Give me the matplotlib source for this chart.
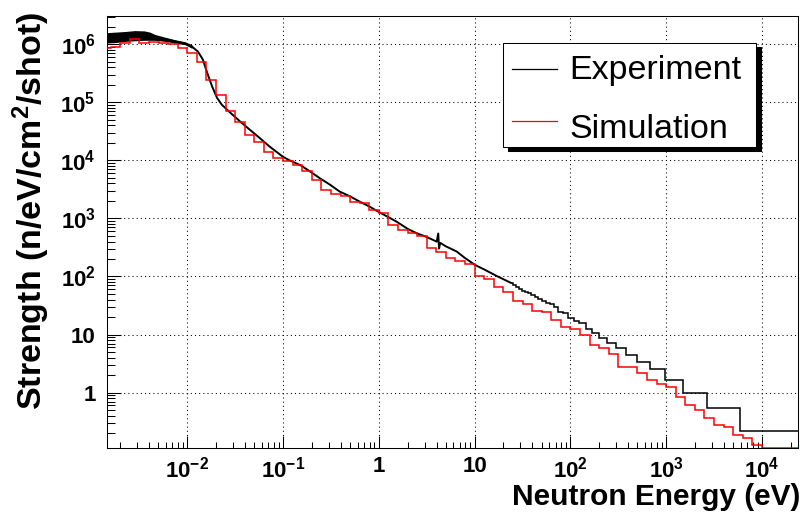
import numpy as np
import matplotlib
matplotlib.use("Agg")
import matplotlib.pyplot as plt
from matplotlib.lines import Line2D
from matplotlib.patches import Rectangle

# ---- data ----
# simulation: histogram with 10 log bins per decade (edges 10^-2.9 ... 10^4.4)
sim_edges = np.logspace(-2.9, 4.4, 74)
sim_values = [
    8.5e5, 9.1e5, 1.05e6, 1.23e6, 1.07e6, 1.10e6, 1.07e6, 1.0e6, 8.5e5, 7.1e5,
    4.9e5, 2.45e5, 1.35e5, 7.1e4, 4.6e4, 2.75e4, 2.1e4, 1.41e4, 1.12e4, 9.8e3,
    8.3e3, 6.5e3, 4.6e3, 3.1e3, 2.6e3, 2.45e3, 1.95e3, 1.82e3, 1.41e3, 1.23e3,
    776, 631, 556, 501, 309, 269, 207, 186, 166, 102,
    89, 65, 54, 38, 33, 25.7, 24.3, 17.8, 13.5, 12.6,
    9.8, 6.5, 5.8, 4.6, 2.8, 2.8, 2.16, 1.62, 1.41, 1.24,
    0.855, 0.62, 0.50, 0.363, 0.278, 0.26, 0.187, 0.164, 0.126, 0.111,
    0.111, 0.111, 0.111,
]

# experiment, fine-binned part (drawn as a line)
exp_fine_E = [
    1.445e-3, 1.78e-3, 2.24e-3, 2.82e-3, 3.55e-3, 4.07e-3, 4.57e-3, 5.9e-3,
    7.4e-3, 9.5e-3, 1.12e-2, 1.29e-2, 1.45e-2, 1.62e-2, 1.82e-2, 2.04e-2,
    2.29e-2, 2.82e-2, 3.55e-2, 4.47e-2, 5.75e-2, 7.2e-2, 0.1, 0.117, 0.151,
    0.19, 0.243, 0.31, 0.39, 0.50, 0.63, 0.81, 1.0, 1.26, 1.53, 2.0, 2.48,
    3.16, 4.02, 4.17, 4.25, 4.37, 5.0, 6.5, 7.9, 10.1, 12.6, 17.0, 23.8,
]
exp_fine_S = [
    1.29e6, 1.32e6, 1.36e6, 1.41e6, 1.41e6, 1.38e6, 1.32e6, 1.22e6,
    1.12e6, 1.035e6, 9.1e5, 7.5e5, 5.5e5, 3.16e5, 1.86e5, 1.2e5,
    9.1e4, 6.6e4, 4.7e4, 3.4e4, 2.4e4, 1.74e4, 1.15e4, 1.0e4, 8.3e3,
    6.5e3, 4.9e3, 3.8e3, 2.9e3, 2.4e3, 1.95e3, 1.58e3, 1.29e3, 1.05e3, 881, 661, 556,
    479, 398, 550, 302, 380, 331, 269, 209, 158, 132, 102, 78,
]

# statistical spread of the experiment at the lowest energies
band_E = [1.445e-3, 1.78e-3, 2.24e-3, 2.82e-3, 3.55e-3, 4.07e-3, 4.57e-3,
          5.9e-3, 7.4e-3, 9.5e-3, 1.12e-2]
band_hi = [1.585e6, 1.62e6, 1.66e6, 1.72e6, 1.70e6, 1.62e6, 1.48e6,
           1.32e6, 1.2e6, 1.1e6, 9.8e5]
band_lo = [1.05e6, 1.07e6, 1.12e6, 1.15e6, 1.17e6, 1.17e6, 1.17e6,
           1.12e6, 1.05e6, 9.8e5, 8.5e5]

# experiment, coarse (constant time-of-flight) bins above ~24 eV
exp_edges = [
    23.8, 25.35, 27.07, 28.97, 31.07, 33.4, 36.0, 39.0, 42.3, 46.0, 50.3,
    55.2, 60.8, 67.4, 75.1, 84.2, 95.0, 108, 124, 143.8, 168.7, 200.6,
    242.6, 299, 378.5, 494, 671, 964, 1502, 2657, 5917, 2.4e4,
]
exp_values = [
    76.6, 71.6, 64.6, 60.3, 57.1, 55, 51.3, 48.2, 44, 41.1,
    38.5, 35.5, 33.7, 29.5, 24.8, 23.3, 19.1, 17.2, 15.7, 12.4,
    10.5, 8.65, 7.08, 5.82, 4.37, 3.42, 2.53, 1.66, 1.0, 0.54, 0.222,
]

x_ticks = [1e-2, 1e-1, 1, 10, 1e2, 1e3, 1e4]
x_ticklabels = [r"$\mathbf{10^{-2}}$", r"$\mathbf{10^{-1}}$", "1", "10",
                r"$\mathbf{10^{2}}$", r"$\mathbf{10^{3}}$", r"$\mathbf{10^{4}}$"]
y_ticks = [1, 10, 1e2, 1e3, 1e4, 1e5, 1e6]
y_ticklabels = ["1", "10", r"$\mathbf{10^{2}}$", r"$\mathbf{10^{3}}$",
                r"$\mathbf{10^{4}}$", r"$\mathbf{10^{5}}$", r"$\mathbf{10^{6}}$"]

plt.rcParams["font.family"] = ["Liberation Sans", "DejaVu Sans"]
plt.rcParams["mathtext.fontset"] = "custom"
plt.rcParams["mathtext.rm"] = "Liberation Sans"
plt.rcParams["mathtext.bf"] = "Liberation Sans:bold"

W, H = 800, 513
fig = plt.figure(figsize=(W / 100, H / 100), dpi=100)
ax = fig.add_axes([106.7 / W, (H - 448) / H, (798 - 106.7) / W, (448 - 16) / H])

ax.set_xscale("log")
ax.set_yscale("log")
ax.set_xlim(1.44e-3, 2.38e4)
ax.set_ylim(0.111, 3.07e6)

ax.grid(True, which="major", color="black", linestyle=(0, (1, 3)), linewidth=0.75)
ax.set_axisbelow(True)

ax.fill_between(band_E, band_lo, band_hi, color="black", lw=0, zorder=2)
ax.plot(exp_fine_E, exp_fine_S, color="black", lw=1.4, zorder=2)
ax.stairs(exp_values, exp_edges, color="black", lw=1.1, baseline=None, zorder=2)
ax.stairs(sim_values, sim_edges, color="red", lw=1.1, baseline=None, zorder=3)

ax.set_xticks(x_ticks)
ax.set_xticklabels(x_ticklabels)
ax.set_yticks(y_ticks)
ax.set_yticklabels(y_ticklabels)
ax.xaxis.set_minor_locator(matplotlib.ticker.LogLocator(base=10, subs=np.arange(2, 10), numticks=20))
ax.yaxis.set_minor_locator(matplotlib.ticker.LogLocator(base=10, subs=np.arange(2, 10), numticks=20))
ax.xaxis.set_minor_formatter(matplotlib.ticker.NullFormatter())
ax.yaxis.set_minor_formatter(matplotlib.ticker.NullFormatter())

ax.tick_params(which="both", direction="in", top=False, right=False, width=0.75)
ax.tick_params(axis="x", which="major", length=8.6, pad=6, labelsize=16)
ax.tick_params(axis="x", which="minor", length=4.3)
ax.tick_params(axis="y", which="major", length=10, pad=8, labelsize=16)
ax.tick_params(axis="y", which="minor", length=5.8)
for lab in ax.get_xticklabels() + ax.get_yticklabels():
    lab.set_fontweight("bold")
for sp in ax.spines.values():
    sp.set_linewidth(0.75)

# axis titles, ROOT style (right aligned)
fig.text(800 / W, 1 - 505 / H, "Neutron Energy (eV)", ha="right", va="baseline",
         fontsize=21.5, fontweight="bold")
fig.text(42 / W, 1 - 12 / H, r"Strength (n/eV/cm$\mathbf{^{2}}$/shot)", rotation=90,
         rotation_mode="anchor", ha="right", va="baseline",
         fontsize=24.5, fontweight="bold")

# legend box with a solid shadow
def px(x, y):
    return x / W, 1 - y / H

x0, x1, y0, y1 = 503, 756, 43, 147
fig.patches.append(Rectangle(px(x0 + 5, y1 + 4), (x1 - x0) / W, (y1 - y0) / H,
                             transform=fig.transFigure, facecolor="black",
                             edgecolor="black", lw=0.75, zorder=5))
fig.patches.append(Rectangle(px(x0, y1), (x1 - x0) / W, (y1 - y0) / H,
                             transform=fig.transFigure, facecolor="white",
                             edgecolor="black", lw=0.75, zorder=6))
for yy, col, name, base in [(69.3, "black", "Experiment", 78.5),
                            (120.7, "red", "Simulation", 137.5)]:
    fig.lines.append(Line2D([512 / W, 557 / W], [1 - yy / H] * 2, color=col, lw=0.9,
                            transform=fig.transFigure, zorder=7))
    fig.text(569 / W, 1 - base / H, name, ha="left", va="baseline",
             fontsize=24.5, zorder=8)

fig.savefig("out.png", dpi=100)
